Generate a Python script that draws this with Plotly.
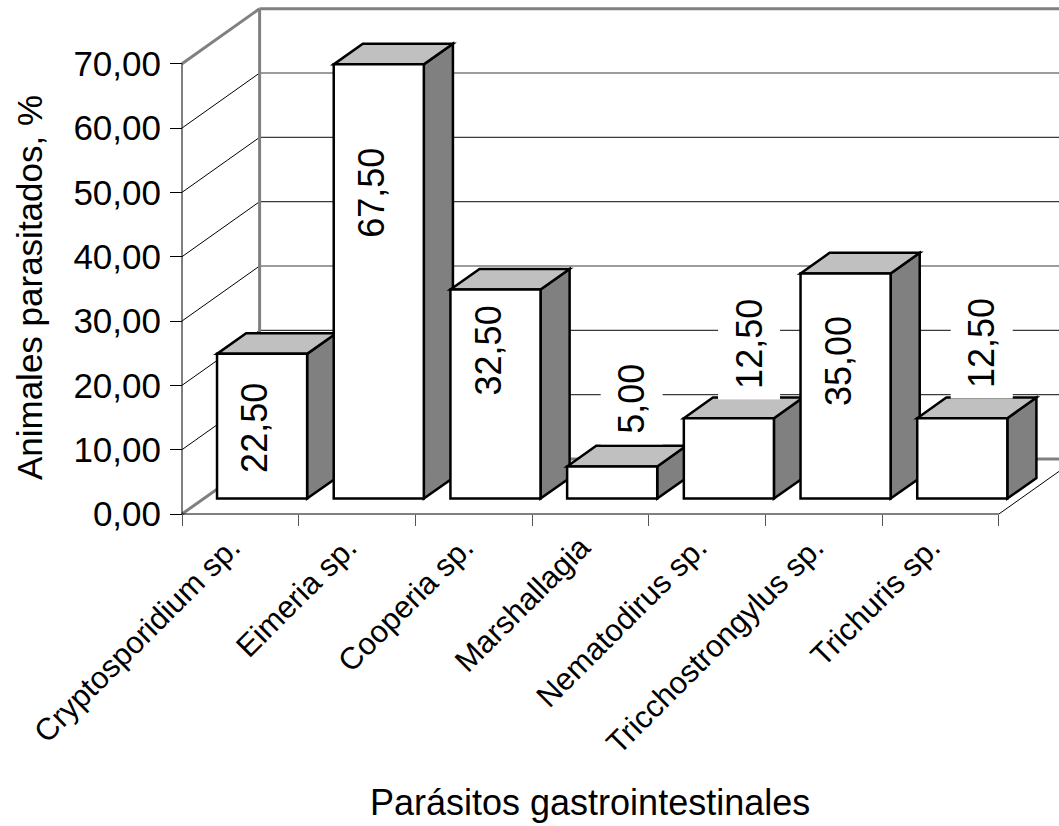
import plotly.graph_objects as go

# ---- data -------------------------------------------------------------
categories = ["Cryptosporidium sp.", "Eimeria sp.", "Cooperia sp.", "Marshallagia",
              "Nematodirus sp.", "Tricchostrongylus sp.", "Trichuris sp."]
values = [22.5, 67.5, 32.5, 5.0, 12.5, 35.0, 12.5]
y_ticks = [0, 10, 20, 30, 40, 50, 60, 70]
y_tick_text = [f"{v:.2f}".replace(".", ",") for v in y_ticks]
value_text = [f"{v:.2f}".replace(".", ",") for v in values]

# height (in axis units) at which each value label is centred
label_y = [13.4, 49.9, 25.5, 17.9, 26.4, 23.7, 26.6]

# ---- layout / projection constants ------------------------------------
W, H = 1059, 826
ML, MB = 170, 300
ORIGIN_PX = (182, 514)          # where x=0, y=0 sits on the page
PX_PER_CAT = 116.7
PX_PER_UNIT = 6.433
DEPTH_PX = (77.6, 55.0)         # oblique offset of the back wall
DX = DEPTH_PX[0] / PX_PER_CAT
DY = DEPTH_PX[1] / PX_PER_UNIT
BAR_FRONT, BAR_BACK = 0.28, 0.655
GAP = 0.114
BAR_W = 1 - 2 * GAP
N = len(categories)
Y_MAX = 70

plot_w = W - ML
plot_h = H - MB
x_range = [(ML - ORIGIN_PX[0]) / PX_PER_CAT, (W - ORIGIN_PX[0]) / PX_PER_CAT]
y_range = [(ORIGIN_PX[1] - plot_h) / PX_PER_UNIT, ORIGIN_PX[1] / PX_PER_UNIT]


def proj(x, y, d):
    """Point on the category/value grid pushed back by depth fraction d."""
    return x + d * DX, y + d * DY


def path(points):
    return "M " + " L ".join(f"{x:.5f},{y:.5f}" for x, y in points) + " Z"


def line(p0, p1, color, width):
    return dict(type="line", xref="x", yref="y", x0=p0[0], y0=p0[1], x1=p1[0], y1=p1[1],
                line=dict(color=color, width=width))


def poly(points, fill, width=2.5):
    return dict(type="path", xref="x", yref="y", path=path(points), fillcolor=fill,
                line=dict(color="black", width=width), layer="above")


WALL = "#808080"
GRID = "#3a3a3a"
shapes = []

# side wall and back wall gridlines
for v in y_ticks[1:-1]:
    shapes.append(line(proj(0, v, 0), proj(0, v, 1), "black", 1))
    shapes.append(line(proj(0, v, 1), proj(N + 1, v, 1), GRID, 1.2))

# wall outlines
shapes.append(line(proj(0, Y_MAX, 0), proj(0, Y_MAX, 1), WALL, 3))
shapes.append(line(proj(0, Y_MAX, 1), proj(N + 1, Y_MAX, 1), WALL, 3))
shapes.append(line(proj(0, 0, 1), proj(0, Y_MAX, 1), WALL, 3))
shapes.append(line(proj(0, 0, 0), proj(0, 0, 1), WALL, 3))
shapes.append(line(proj(0, 0, 1), proj(N + 1, 0, 1), WALL, 3))

# floor front edge, floor right edge and value axis line
shapes.append(line(proj(0, 0, 0), proj(N, 0, 0), "black", 1))
shapes.append(line(proj(N, 0, 0), proj(N, 0, 1), "black", 1))
shapes.append(line(proj(0, 0, 0), proj(0, Y_MAX, 0), "black", 1))

# 3D columns, drawn left to right so each front face overlaps the previous side face
annotations = []
for i, v in enumerate(values):
    x0 = i + GAP
    x1 = x0 + BAR_W
    f0, f1 = BAR_FRONT, BAR_BACK
    side = [proj(x1, 0, f0), proj(x1, 0, f1), proj(x1, v, f1), proj(x1, v, f0)]
    top = [proj(x0, v, f0), proj(x0, v, f1), proj(x1, v, f1), proj(x1, v, f0)]
    front = [proj(x0, 0, f0), proj(x1, 0, f0), proj(x1, v, f0), proj(x0, v, f0)]
    shapes.append(poly(side, "#808080"))
    shapes.append(poly(top, "#C0C0C0"))
    shapes.append(poly(front, "#FFFFFF"))

    outside = label_y[i] > v
    cx = proj((x0 + x1) / 2, 0, f0)[0] + (0.17 if outside else -0.06)
    annotations.append(dict(
        x=cx, y=label_y[i], xref="x", yref="y", text=value_text[i], textangle=-90,
        showarrow=False, xanchor="center", yanchor="middle",
        font=dict(size=36, color="black"),
        bgcolor="white" if outside else None, borderpad=10))


def paper_x(px):
    return (px - ML) / plot_w


def paper_y(py):
    return (plot_h - py) / plot_h


annotations.append(dict(
    x=paper_x(29.6), y=paper_y(287.5), xref="paper", yref="paper",
    text="Animales parasitados, %", textangle=-90, showarrow=False,
    xanchor="center", yanchor="middle", font=dict(size=35, color="black")))
annotations.append(dict(
    x=paper_x(590), y=paper_y(802.5), xref="paper", yref="paper",
    text="Parásitos gastrointestinales", showarrow=False,
    xanchor="center", yanchor="middle", font=dict(size=36, color="black")))

# category labels sit slightly left of the slot centres
label_shift = 0.08

fig = go.Figure()
fig.update_layout(
    template="none",
    width=W, height=H,
    margin=dict(l=ML, r=0, t=0, b=MB, pad=0),
    paper_bgcolor="white", plot_bgcolor="white",
    font=dict(family="Liberation Sans, Arial, sans-serif", color="black"),
    showlegend=False,
    shapes=shapes,
    annotations=annotations,
    xaxis=dict(
        range=x_range, anchor="free", position=(plot_h - ORIGIN_PX[1]) / plot_h,
        tickmode="array", tickvals=[i + 0.5 - label_shift for i in range(N)],
        ticktext=categories, tickangle=-45, ticks="", tickfont=dict(size=31),
        ticklabelstandoff=8,
        minor=dict(tickmode="array", tickvals=list(range(N + 1)), ticks="outside",
                   ticklen=11, tickcolor="#555555", tickwidth=1, showgrid=False),
        showgrid=False, zeroline=False, showline=False, automargin=False, fixedrange=True),
    yaxis=dict(
        range=y_range, anchor="free", position=(ORIGIN_PX[0] - ML) / plot_w,
        tickmode="array", tickvals=y_ticks, ticktext=y_tick_text,
        ticks="outside", ticklen=12, tickcolor="black", tickwidth=1,
        tickfont=dict(size=35), ticklabelstandoff=2,
        showgrid=False, zeroline=False, showline=False, automargin=False, fixedrange=True),
)

fig.write_html("out.html")
